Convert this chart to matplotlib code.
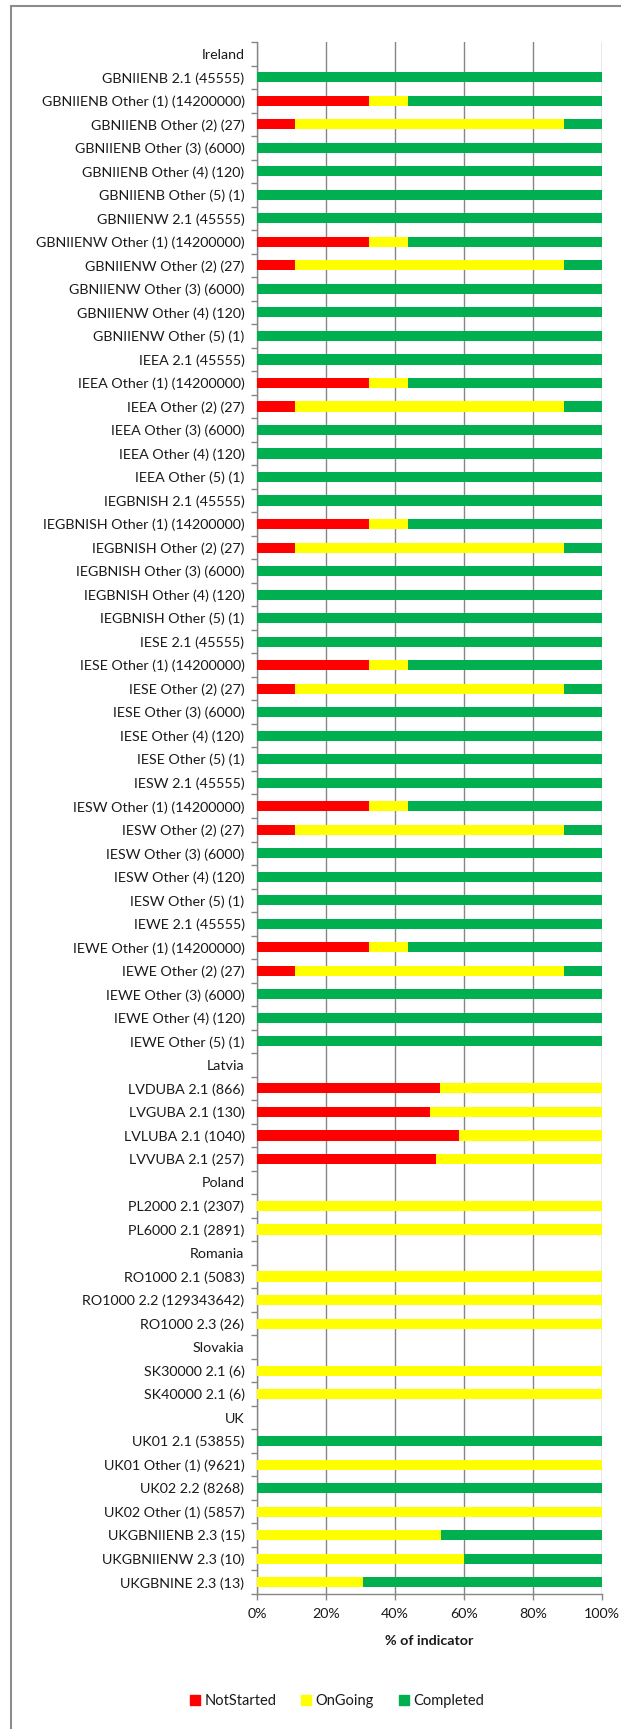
import matplotlib.pyplot as plt
from matplotlib.patches import Patch, Rectangle

plt.rcParams['font.family'] = ['Lato', 'DejaVu Sans']

# rows top to bottom, country headers have no bars
labels = [
    "Ireland",
    "GBNIIENB 2.1 (45555)", "GBNIIENB Other (1) (14200000)", "GBNIIENB Other (2) (27)",
    "GBNIIENB Other (3) (6000)", "GBNIIENB Other (4) (120)", "GBNIIENB Other (5) (1)",
    "GBNIIENW 2.1 (45555)", "GBNIIENW Other (1) (14200000)", "GBNIIENW Other (2) (27)",
    "GBNIIENW Other (3) (6000)", "GBNIIENW Other (4) (120)", "GBNIIENW Other (5) (1)",
    "IEEA 2.1 (45555)", "IEEA Other (1) (14200000)", "IEEA Other (2) (27)",
    "IEEA Other (3) (6000)", "IEEA Other (4) (120)", "IEEA Other (5) (1)",
    "IEGBNISH 2.1 (45555)", "IEGBNISH Other (1) (14200000)", "IEGBNISH Other (2) (27)",
    "IEGBNISH Other (3) (6000)", "IEGBNISH Other (4) (120)", "IEGBNISH Other (5) (1)",
    "IESE 2.1 (45555)", "IESE Other (1) (14200000)", "IESE Other (2) (27)",
    "IESE Other (3) (6000)", "IESE Other (4) (120)", "IESE Other (5) (1)",
    "IESW 2.1 (45555)", "IESW Other (1) (14200000)", "IESW Other (2) (27)",
    "IESW Other (3) (6000)", "IESW Other (4) (120)", "IESW Other (5) (1)",
    "IEWE 2.1 (45555)", "IEWE Other (1) (14200000)", "IEWE Other (2) (27)",
    "IEWE Other (3) (6000)", "IEWE Other (4) (120)", "IEWE Other (5) (1)",
    "Latvia",
    "LVDUBA 2.1 (866)", "LVGUBA 2.1 (130)", "LVLUBA 2.1 (1040)", "LVVUBA 2.1 (257)",
    "Poland",
    "PL2000 2.1 (2307)", "PL6000 2.1 (2891)",
    "Romania",
    "RO1000 2.1 (5083)", "RO1000 2.2 (129343642)", "RO1000 2.3 (26)",
    "Slovakia",
    "SK30000 2.1 (6)", "SK40000 2.1 (6)",
    "UK",
    "UK01 2.1 (53855)", "UK01 Other (1) (9621)", "UK02 2.2 (8268)", "UK02 Other (1) (5857)",
    "UKGBNIIENB 2.3 (15)", "UKGBNIIENW 2.3 (10)", "UKGBNINE 2.3 (13)",
]

# percentages per row
not_started = [0] + [0, 32.6, 11.1, 0, 0, 0] * 7 + [
    0, 53.0, 50.0, 58.5, 51.8,
    0, 0, 0,
    0, 0, 0, 0,
    0, 0, 0,
    0, 0, 0, 0, 0, 0, 0, 0,
]
on_going = [0] + [0, 11.1, 77.8, 0, 0, 0] * 7 + [
    0, 47.0, 50.0, 41.5, 48.2,
    0, 100, 100,
    0, 100, 100, 100,
    0, 100, 100,
    0, 0, 100, 0, 100, 53.3, 60.0, 30.8,
]
completed = [0] + [100, 56.3, 11.1, 100, 100, 100] * 7 + [
    0, 0, 0, 0, 0,
    0, 0, 0,
    0, 0, 0, 0,
    0, 0, 0,
    0, 100, 0, 100, 0, 46.7, 40.0, 69.2,
]

red = "#FF0000"
yellow = "#FFFF00"
green = "#00B050"
grid_col = "#868686"
txt = "#1a1a1a"

fig = plt.figure(figsize=(6.21, 17.29), dpi=100)
ax = fig.add_axes([257 / 621, 135 / 1729, 345 / 621, 1552 / 1729])

y = list(range(len(labels)))
h = 0.43
left2 = [a + b for a, b in zip(not_started, on_going)]
ax.barh(y, not_started, height=h, color=red, zorder=3)
ax.barh(y, on_going, height=h, left=not_started, color=yellow, zorder=3)
ax.barh(y, completed, height=h, left=left2, color=green, zorder=3)

ax.set_ylim(len(labels) - 0.5, -0.5)
ax.set_xlim(0, 100)

ax.set_yticks(y)
ax.set_yticklabels(labels, fontsize=10.3, color=txt)
ax.tick_params(axis="y", which="major", length=0, pad=9)
ax.set_yticks([i - 0.5 for i in range(len(labels) + 1)], minor=True)
ax.tick_params(axis="y", which="minor", length=4, color=grid_col, width=1)

ax.set_xticks([0, 20, 40, 60, 80, 100])
ax.set_xticklabels(["0%", "20%", "40%", "60%", "80%", "100%"], fontsize=10.3, color=txt)
ax.tick_params(axis="x", length=4, color=grid_col, width=1, pad=6)
ax.grid(axis="x", color=grid_col, linewidth=1, zorder=0)

for s in ["top", "right"]:
    ax.spines[s].set_visible(False)
for s in ["left", "bottom"]:
    ax.spines[s].set_color(grid_col)
    ax.spines[s].set_linewidth(1)

ax.set_xlabel("% of indicator", fontsize=10.3, fontweight="bold", labelpad=11, color=txt)

handles = [Patch(color=red, label="NotStarted"),
           Patch(color=yellow, label="OnGoing"),
           Patch(color=green, label="Completed")]
fig.legend(handles=handles, loc="center", bbox_to_anchor=(337 / 621, 28 / 1729), ncol=3,
           frameon=False, fontsize=10.5, handlelength=0.7, handleheight=0.7,
           handletextpad=0.3, columnspacing=1.7, labelcolor=txt)

# chart area border (cropped on the right and bottom)
fig.add_artist(Rectangle((11 / 621, -0.05), 1.2, 1.05 - 6 / 1729, transform=fig.transFigure,
                         fill=False, edgecolor="#8c8c8c", linewidth=1.5))

fig.savefig("out.png", dpi=100)
